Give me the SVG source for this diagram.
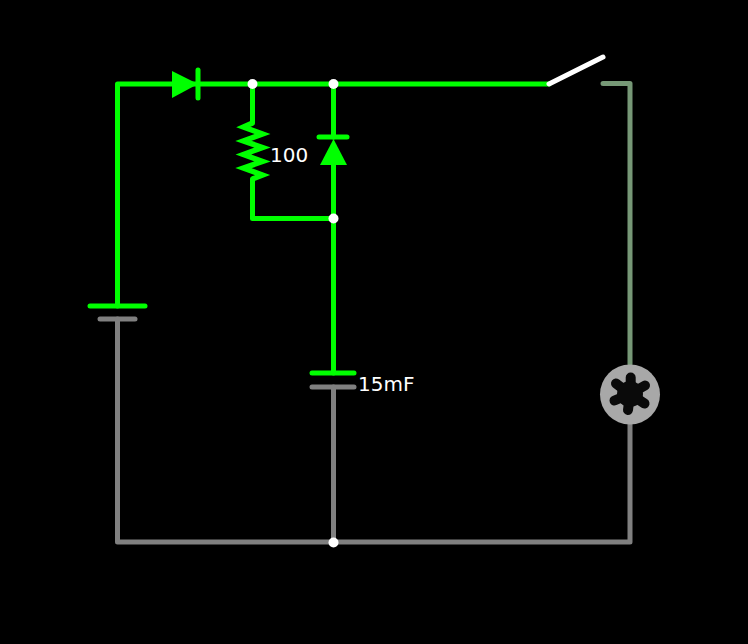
<svg xmlns="http://www.w3.org/2000/svg" width="748" height="644" viewBox="0 0 748 644">
<style>
.w{fill:none;stroke-width:5;stroke-linecap:round;stroke-linejoin:round}
.g{stroke:#00ff00}.y{stroke:#808080}.m{stroke:#769876}.h{stroke:#fff}
.f{fill:#00ff00}.d{fill:#fff}
.z{stroke-width:5.500;stroke-linejoin:miter;stroke-miterlimit:10;stroke-linecap:butt}
text{font-family:"DejaVu Sans",sans-serif;font-size:20px;fill:#fff}
</style>
<rect width="748" height="644" fill="#000"/>
<g id="connectors">
<path class="w g" d="M117.500 306V84H549"/>
<path class="w g" d="M252.500 84V123M252.500 179V218.500H333.500M333.500 84V137M333.500 165V373"/>
<path class="w m" d="M603 83.500H630V364"/>
<path class="w y" d="M117.500 319V542H630V424M333.500 387V542"/>
</g>
<g id="diode1"><path class="f" d="M172 71V98L198 84Z"/><path class="w g" d="M198 70V98"/></g>
<g id="resistor"><path class="w g z" d="M252.500 123L243.500 127L262.500 134L243.500 141L262.500 147.500L243.500 154.500L262.500 161.500L243.500 168L262.500 175L252.500 179"/><text x="270" y="162">100</text></g>
<g id="diode2"><path class="f" d="M333.500 139L320 165H347Z"/><path class="w g" d="M319 137H347"/></g>
<g id="battery"><path class="w g" d="M90 306H145"/><path class="w y" d="M100 319H135"/></g>
<g id="capacitor"><path class="w g" d="M312 373H354"/><path class="w y" d="M312 387H354"/><text x="358" y="391">15mF</text></g>
<g id="switch"><path class="w h" d="M549 84L603 57"/></g>
<g id="lamp"><circle cx="630" cy="394.500" r="30" fill="#a8a8a8"/>
<g stroke="#0a0a0a" stroke-width="10" stroke-linecap="round"><path d="M630.700 394V377.500M630 394L645 385.500M630 394L644.500 403.500M630 394L628 410M630 394L614.500 400.500M630 394L616 383.500"/></g>
<circle cx="630" cy="394" r="13" fill="#0a0a0a"/></g>
<g id="junctions"><circle class="d" cx="252.500" cy="84" r="5"/><circle class="d" cx="333.500" cy="84" r="5"/><circle class="d" cx="333.500" cy="218.500" r="5"/><circle class="d" cx="333.500" cy="542.500" r="5"/></g>
</svg>
